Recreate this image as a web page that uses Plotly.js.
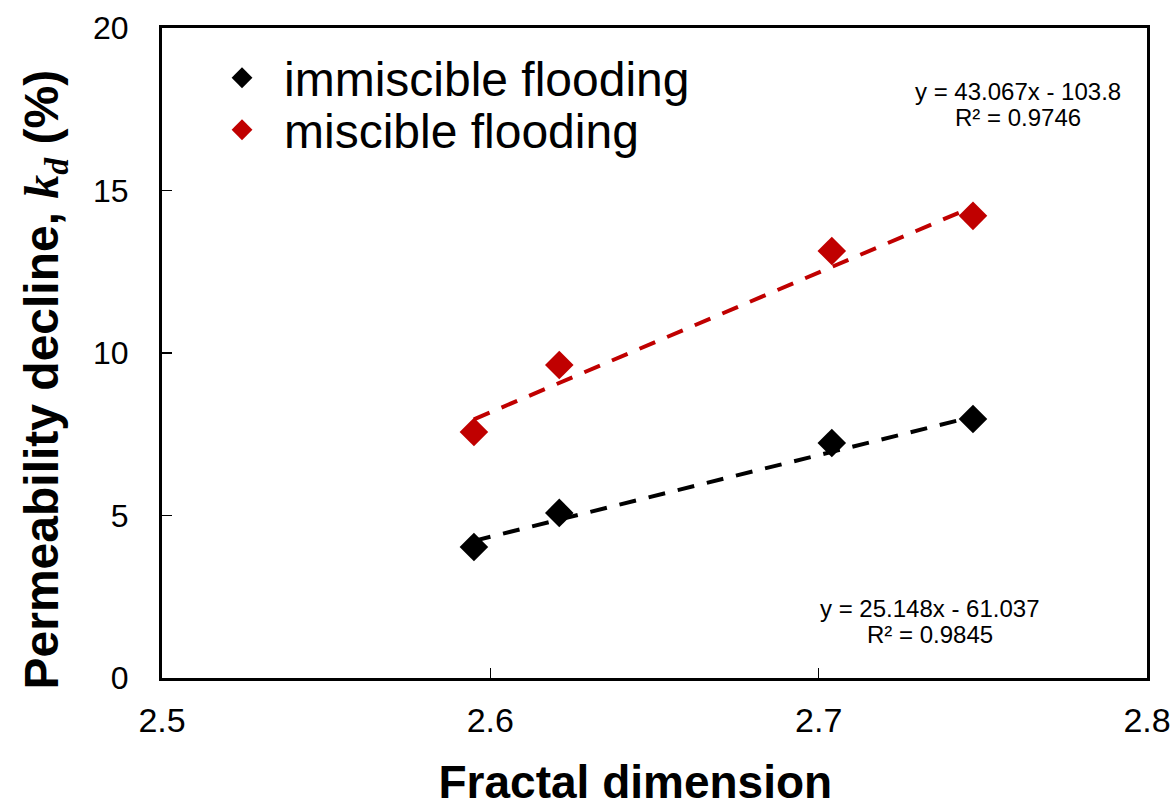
<!DOCTYPE html>
<html><head><meta charset="utf-8">
<script src="https://cdn.plot.ly/plotly-3.0.1.min.js"></script>
<style>body{margin:0;background:#fff}#chart{width:1173px;height:808px}</style>
</head><body><div id="chart"></div>
<script>
// Data
const fractalDim = [2.595, 2.621, 2.704, 2.747];
const immiscible = [4.03, 5.08, 7.23, 7.97];
const miscible = [7.57, 9.63, 13.14, 14.22];
const trendX = [2.595, 2.747];
const immiscibleTrend = [4.22, 8.04];
const miscibleTrend = [7.96, 14.50];
const immiscibleEq = ["y = 25.148x - 61.037", "R² = 0.9845"];
const miscibleEq = ["y = 43.067x - 103.8", "R² = 0.9746"];
const xTicks = [2.5, 2.6, 2.7, 2.8];
const yTicks = [0, 5, 10, 15, 20];

const F = "Arial, 'Liberation Sans', sans-serif";
const traces = [
  {x: trendX, y: immiscibleTrend, mode: 'lines', showlegend: false, hoverinfo: 'skip',
   line: {color: '#000000', width: 4, dash: '17px,13px'}},
  {x: trendX, y: miscibleTrend, mode: 'lines', showlegend: false, hoverinfo: 'skip',
   line: {color: '#c00000', width: 4, dash: '17px,13px'}},
  {x: fractalDim, y: immiscible, mode: 'markers', name: 'immiscible flooding', legend: 'legend',
   marker: {symbol: 'diamond', size: 22, color: '#000000'}},
  {x: fractalDim, y: miscible, mode: 'markers', name: 'miscible flooding', legend: 'legend2',
   marker: {symbol: 'diamond', size: 22, color: '#c00000'}}
];
const legendBase = {xanchor: 'left', yanchor: 'middle', bgcolor: 'rgba(0,0,0,0)',
  font: {size: 48, family: F, color: '#000'}, itemsizing: 'trace', itemwidth: 74};
const layout = {
  width: 1173, height: 808,
  margin: {l: 162, r: 26, t: 28, b: 130},
  paper_bgcolor: '#fff', plot_bgcolor: '#fff',
  font: {family: F, color: '#000'},
  showlegend: true,
  legend: Object.assign({x: 0.0386, y: 0.923}, legendBase),
  legend2: Object.assign({x: 0.0386, y: 0.843}, legendBase),
  xaxis: {range: [2.5, 2.8], tickvals: xTicks, ticktext: xTicks.map(v => v.toFixed(1)),
    ticks: 'inside', ticklen: 10, tickwidth: 1.5, tickcolor: '#000',
    showline: true, linecolor: '#000', linewidth: 3, mirror: true, showgrid: false, zeroline: false,
    tickfont: {size: 34, family: F}, ticklabelstandoff: 10,
    title: {text: '<b>Fractal dimension</b>&nbsp;&nbsp;&nbsp;', font: {size: 46, family: F}, standoff: 30}},
  yaxis: {range: [0, 20], tickvals: yTicks,
    ticks: 'inside', ticklen: 10, tickwidth: 1.5, tickcolor: '#000',
    showline: true, linecolor: '#000', linewidth: 3, mirror: true, showgrid: false, zeroline: false,
    tickfont: {size: 32, family: F}, ticklabelstandoff: 24,
    title: {text: "<b>Permeability decline, <span style=\"font-family:'Liberation Serif',serif;font-style:italic\">k<sub>d</sub></span> (%)</b>&nbsp;&nbsp;&nbsp;&nbsp;",
      font: {size: 48, family: F}, standoff: 20}},
  annotations: [
    {xref: 'x', yref: 'y', x: 2.7607, y: 18.06, text: miscibleEq[0], showarrow: false, font: {size: 24, family: F}},
    {xref: 'x', yref: 'y', x: 2.7607, y: 17.26, text: miscibleEq[1], showarrow: false, font: {size: 24, family: F}},
    {xref: 'x', yref: 'y', x: 2.734, y: 2.15, text: immiscibleEq[0], showarrow: false, font: {size: 24, family: F}},
    {xref: 'x', yref: 'y', x: 2.734, y: 1.35, text: immiscibleEq[1], showarrow: false, font: {size: 24, family: F}}
  ]
};
Plotly.newPlot('chart', traces, layout, {displayModeBar: false, staticPlot: true});
</script></body></html>
